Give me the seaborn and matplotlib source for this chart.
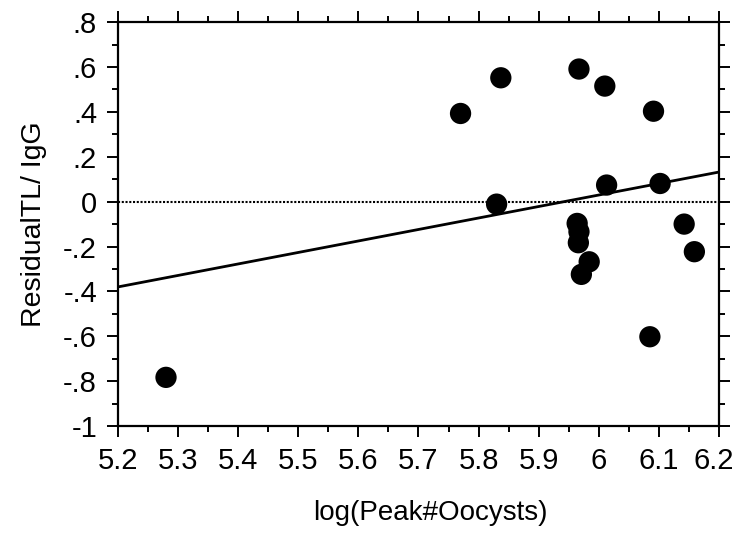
import matplotlib
matplotlib.use("Agg")
import matplotlib.pyplot as plt
import matplotlib.transforms as mtransforms
from matplotlib.ticker import MultipleLocator, FuncFormatter
import numpy as np
import pandas as pd
import seaborn as sns

# Peak oocyst counts (log) against TL/IgG residuals
log_peak_oocysts = [5.280, 5.770, 5.837, 5.830, 5.967, 6.010, 6.091, 6.013, 6.102,
                    5.964, 5.967, 5.966, 5.984, 5.971, 6.142, 6.159, 6.085]
residual_tl_igg = [-0.783, 0.393, 0.552, -0.011, 0.591, 0.515, 0.403, 0.074, 0.081,
                   -0.097, -0.134, -0.183, -0.268, -0.324, -0.100, -0.223, -0.602]

# Fitted trend line end points
fit_x = [5.2, 6.2]
fit_y = [-0.38, 0.132]

# Zero reference
ref_x = [5.2, 6.2]
ref_y = [0.0, 0.0]

x_ticks = [5.2, 5.3, 5.4, 5.5, 5.6, 5.7, 5.8, 5.9, 6.0, 6.1, 6.2]
y_ticks = [-1.0, -0.8, -0.6, -0.4, -0.2, 0.0, 0.2, 0.4, 0.6, 0.8]

sns.set_theme(style="white")
plt.rcParams["font.family"] = ["Liberation Sans", "DejaVu Sans"]

df = pd.DataFrame({"x": log_peak_oocysts, "y": residual_tl_igg})
fit = pd.DataFrame({"x": fit_x, "y": fit_y})
ref = pd.DataFrame({"x": ref_x, "y": ref_y})

fig = plt.figure(figsize=(7.37, 5.40), dpi=100)
ax = fig.add_axes([0.160, 0.211, 0.8156, 0.748])

sns.lineplot(data=ref, x="x", y="y", ax=ax, color="black", lw=1.5,
             linestyle=(0, (1, 0.8)), zorder=1)
sns.lineplot(data=fit, x="x", y="y", ax=ax, color="black", lw=2.0, zorder=2)
sns.scatterplot(data=df, x="x", y="y", ax=ax, color="black", s=235,
                edgecolor="none", zorder=3)

ax.set_xlim(5.2, 6.2)
ax.set_ylim(-1.0, 0.8)
ax.set_xticks(x_ticks)
ax.set_yticks(y_ticks)
ax.xaxis.set_minor_locator(MultipleLocator(0.05))
ax.yaxis.set_minor_locator(MultipleLocator(0.1))


def fmt_x(v, _):
    s = f"{v:.1f}"
    return s[:-2] if s.endswith(".0") else s


def fmt_y(v, _):
    if abs(v) < 1e-9:
        return "0"
    if abs(abs(v) - 1) < 1e-9:
        return "-1" if v < 0 else "1"
    s = f"{v:.1f}"
    return s.replace("0.", ".")


ax.xaxis.set_major_formatter(FuncFormatter(fmt_x))
ax.yaxis.set_major_formatter(FuncFormatter(fmt_y))

for sp in ax.spines.values():
    sp.set_visible(True)
    sp.set_color("black")
    sp.set_linewidth(1.6)

ax.tick_params(which="both", direction="out", top=True, right=True,
               bottom=True, left=True, color="black", width=1.4,
               labelsize=21, labelcolor="black")
ax.tick_params(which="major", length=8, pad=7)
ax.tick_params(which="minor", length=4)

# keep the right-most x label inside the figure
last_tick = ax.xaxis.get_major_ticks()[-1]
shift = mtransforms.ScaledTranslation(-4 / 72, 0, fig.dpi_scale_trans)
last_tick.label1.set_transform(last_tick.label1.get_transform() + shift)

ax.set_xlabel("log(Peak#Oocysts)", fontsize=20, labelpad=18, color="black",
              x=0.52)
ax.set_ylabel("ResidualTL/ IgG", fontsize=20.5, labelpad=12, color="black")

fig.savefig("out.png", dpi=100, facecolor="white")
